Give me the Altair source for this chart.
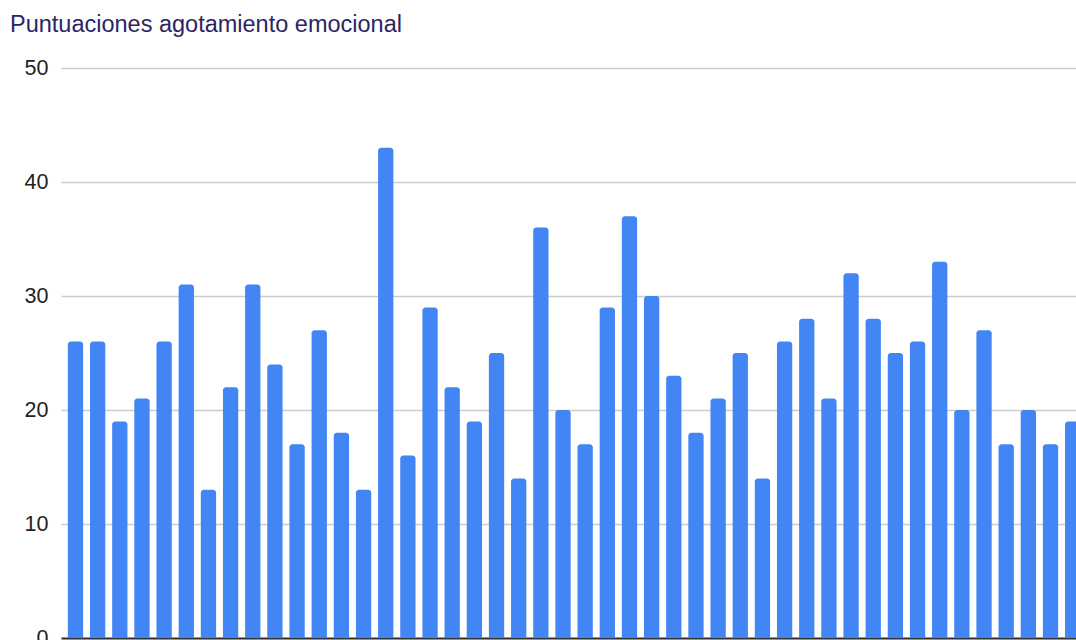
import altair as alt
import pandas as pd

# Emotional exhaustion score for each respondent, in order
respondents = list(range(1, 47))
scores = [26, 26, 19, 21, 26, 31, 13, 22, 31, 24, 17, 27, 18, 13, 43, 16,
          29, 22, 19, 25, 14, 36, 20, 17, 29, 37, 30, 23, 18, 21, 25, 14,
          26, 28, 21, 32, 28, 25, 26, 33, 20, 27, 17, 20, 17, 19]
y_ticks = [0, 10, 20, 30, 40, 50]

df = pd.DataFrame({"respondent": respondents, "score": scores})

bars = (
    alt.Chart(df)
    .transform_calculate(left="datum.respondent - 0.345", right="datum.respondent + 0.345")
    .mark_bar(color="#4285F4", cornerRadiusTopLeft=3, cornerRadiusTopRight=3, clip=True)
    .encode(
        x=alt.X(
            "left:Q",
            scale=alt.Scale(domain=[0.346, 46.15], nice=False, zero=False),
            axis=alt.Axis(
                title=None, labels=False, ticks=False, grid=False,
                domainColor="#333333", domainWidth=2,
            ),
        ),
        x2="right:Q",
        y=alt.Y(
            "score:Q",
            scale=alt.Scale(domain=[0, 50], nice=False),
            axis=alt.Axis(
                title=None, values=y_ticks, ticks=False, domain=False,
                gridColor="#cccccc", gridWidth=1.5,
                labelFont="Liberation Sans", labelFontSize=21.5, labelColor="#222222",
                labelPadding=13,
            ),
        ),
        y2=alt.datum(0),
    )
)

chart = (
    bars.properties(
        width=1015,
        height=570,
        view=alt.ViewBackground(stroke="transparent", strokeWidth=0),
        autosize=alt.AutoSizeParams(type="none"),
        padding={"left": 61, "top": 68, "right": 0, "bottom": 2},
        title=alt.TitleParams(
            "Puntuaciones agotamiento emocional",
            anchor="start",
            frame="group",
            dx=-51,
            offset=2,
            baseline="alphabetic",
            font="Liberation Sans",
            fontSize=23.5,
            fontWeight="normal",
            color="#2c2463",
        ),
    )
    .configure_view(strokeWidth=0, stroke="transparent")
    .configure_axisY(domain=False)
    .configure(background="white")
)

chart.save("out.html", embed_options={"renderer": "svg", "actions": False})
